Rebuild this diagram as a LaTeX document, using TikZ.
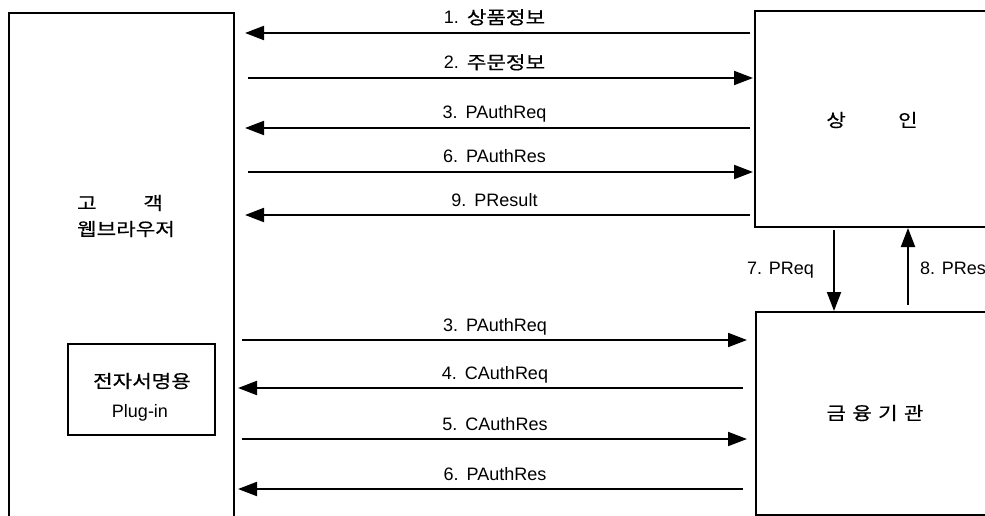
\documentclass[tikz,border=0pt]{standalone}
\usepackage{fontspec}
\setmainfont{Liberation Sans}
\newfontfamily\kr[FakeStretch=1.18,FakeBold=0.4]{Noto Sans CJK KR}
\usetikzlibrary{arrows.meta}
\tikzset{
  box/.style={draw, line width=2pt, rectangle, inner sep=0pt},
  arr/.style={line width=2pt, -{Triangle[length=19pt,width=14pt]}},
  lbl/.style={font=\fontsize{18}{20}\selectfont, inner sep=0pt},
  msg/.style={lbl, anchor=base, yshift=9pt},
}
\begin{document}
\begin{tikzpicture}[x=1pt,y=-1pt]
\useasboundingbox (0,0) rectangle (985,516);
\clip (0,0) rectangle (985,516);
% boxes
\node[box, minimum width=225pt, minimum height=530pt, anchor=north west] (cust) at (8,12) {};
\node[box, minimum width=245pt, minimum height=216pt, anchor=north west] (merch) at (754,10) {};
\node[box, minimum width=245pt, minimum height=203pt, anchor=north west] (bank) at (755,311) {};
\node[box, minimum width=147pt, minimum height=91pt, anchor=north west] (plug) at (67,343) {};
% texts
\node[lbl] (t1) at (120,203) {\kr 고\hspace{2.6em}객};
\node[lbl] (t2) at (126,229) {\kr 웹브라우저};
\node[lbl] (t3) at (872,120) {\kr 상\hspace{2.9em}인};
\node[lbl] (t4) at (875,413) {\kr 금\hspace{0.35em}융\hspace{0.35em}기\hspace{0.35em}관};
\node[lbl] (t5) at (142,381) {\kr 전자서명용};
\node[lbl] (t6) at (140,413) {Plug-in};
% top section
\draw[arr, shorten <=4pt, shorten >=10pt] (merch.west |- 0,33) -- node[msg] (l1) {1.\ \,{\kr 상품정보}} (cust.east |- 0,33);
\draw[arr, shorten <=13pt, shorten >=1pt] (cust.east |- 0,78) -- node[msg] (l2) {2.\ \,{\kr 주문정보}} (merch.west |- 0,78);
\draw[arr, shorten <=4pt, shorten >=10pt] (merch.west |- 0,128) -- node[msg] (l3) {3.\ \,PAuthReq} (cust.east |- 0,128);
\draw[arr, shorten <=13pt, shorten >=1pt] (cust.east |- 0,172) -- node[msg] (l4) {6.\ \,PAuthRes} (merch.west |- 0,172);
\draw[arr, shorten <=4pt, shorten >=10pt] (merch.west |- 0,215) -- node[msg] (l5) {9.\ \,PResult} (cust.east |- 0,215);
% bottom section
\draw[arr, shorten <=7pt, shorten >=8pt] (cust.east |- 0,340) -- node[msg] (l6) {3.\ \,PAuthReq} (bank.west |- 0,340);
\draw[arr, shorten <=12pt, shorten >=3pt] (bank.west |- 0,388) -- node[msg] (l7) {4.\ \,CAuthReq} (cust.east |- 0,388);
\draw[arr, shorten <=7pt, shorten >=8pt] (cust.east |- 0,439) -- node[msg] (l8) {5.\ \,CAuthRes} (bank.west |- 0,439);
\draw[arr, shorten <=12pt, shorten >=3pt] (bank.west |- 0,489) -- node[msg] (l9) {6.\ \,PAuthRes} (cust.east |- 0,489);
% vertical
\draw[arr, shorten <=2pt] (merch.south -| 834,0) -- (bank.north -| 834,0);
\draw[arr, shorten <=6pt] (bank.north -| 908,0) -- (merch.south -| 908,0);
\node[lbl, anchor=base east] (l10) at (814,274) {7. PReq};
\node[lbl, anchor=base west] (l11) at (920,274) {8. PRes};
\end{tikzpicture}
\end{document}
